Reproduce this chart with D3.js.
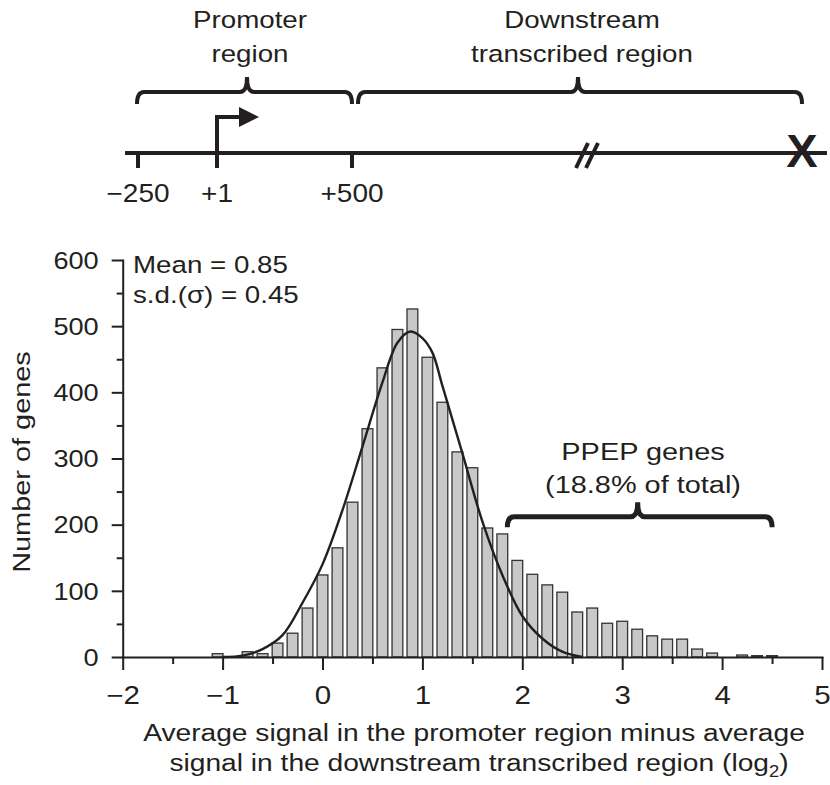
<!DOCTYPE html>
<html>
<head>
<meta charset="utf-8">
<script src="https://cdn.jsdelivr.net/npm/d3@7"></script>
<style>
  body { margin: 0; background: #fff; }
  text { font-family: "Liberation Sans", Arial, Helvetica, sans-serif; fill: #231f20; }
</style>
</head>
<body>
<svg id="chart" width="830" height="785"></svg>
<script>
// histogram bins (bin centres, log2 units) and gene counts
const binCenters = [-1.65, -1.5, -1.35, -1.2, -1.05, -0.9, -0.75, -0.6, -0.45, -0.3, -0.15,
  0, 0.15, 0.3, 0.45, 0.6, 0.75, 0.9, 1.05, 1.2, 1.35, 1.5, 1.65, 1.8, 1.95, 2.1, 2.25,
  2.4, 2.55, 2.7, 2.85, 3.0, 3.15, 3.3, 3.45, 3.6, 3.75, 3.9, 4.05, 4.2, 4.35, 4.5]
const counts = [0, 0, 0, 0, 5, 0, 8, 5, 21, 36, 74,
  124, 165, 234, 345, 437, 495, 526, 453, 385, 310, 286, 195, 186, 146, 125, 109,
  98, 68, 74, 51, 54, 42, 32, 27, 27, 12, 6, 0, 3, 2, 2]
const binWidth = 0.15

// fitted normal curve
const fitX = [-1.0, -0.8, -0.6, -0.4, -0.2, 0.0, 0.2, 0.4, 0.6, 0.75, 0.88, 1.0,
  1.1, 1.2, 1.4, 1.6, 1.8, 2.0, 2.2, 2.4, 2.6]
const fitY = [0, 2, 12, 33, 82, 140, 222, 318, 415, 475, 492, 482,
  460, 410, 308, 205, 124, 62, 28, 8, 0]

const xMajor = [-2, -1, 0, 1, 2, 3, 4, 5]
const xMinor = [-1.5, -0.5, 0.5, 1.5, 2.5, 3.5, 4.5]
const yMajor = [0, 100, 200, 300, 400, 500, 600]
const yMinor = [50, 150, 250, 350, 450, 550]

const statLines = ["Mean = 0.85", "s.d.(\u03c3) = 0.45"]
const ppepLines = ["PPEP genes", "(18.8% of total)"]
const ppepRange = [1.85, 4.5]

// gene schematic labels
const siteLabels = ["\u2212250", "+1", "+500"]
const regionNames = [["Promoter", "region"], ["Downstream", "transcribed region"]]

const SX = 1.18 // the figure's type is wider than Arial
const ink = "#231f20"

const svg = d3.select("#chart")

function label(g, x, y, str, size, anchor, rot, sx) {
  return g.append("text")
    .attr("transform", `translate(${x},${y})` + (rot ? ` rotate(${rot})` : "") + ` scale(${sx || SX},1)`)
    .attr("text-anchor", anchor || "middle")
    .style("font-size", size + "px")
    .text(str)
}

function brace(x1, x2, xm, yLine, yEnd, yTip) {
  const r = Math.min(7, (x2 - x1) / 6)
  const p = d3.path()
  p.moveTo(x1, yEnd)
  p.quadraticCurveTo(x1, yLine, x1 + r, yLine)
  p.lineTo(xm - r, yLine)
  p.quadraticCurveTo(xm, yLine, xm, yTip)
  p.quadraticCurveTo(xm, yLine, xm + r, yLine)
  p.lineTo(x2 - r, yLine)
  p.quadraticCurveTo(x2, yLine, x2, yEnd)
  return p.toString()
}

// ---------- gene schematic ----------
const gene = svg.append("g")
const lineY = 153
const sitePos = [138, 217, 352]
gene.append("line").attr("x1", 125).attr("x2", 827).attr("y1", lineY).attr("y2", lineY)
  .attr("stroke", ink).attr("stroke-width", 4)
;[sitePos[0], sitePos[2]].forEach(px => {
  gene.append("line").attr("x1", px).attr("x2", px).attr("y1", lineY).attr("y2", 168)
    .attr("stroke", ink).attr("stroke-width", 4)
})
// transcription start arrow
gene.append("path").attr("d", `M${sitePos[1]},168 V117 H244`)
  .attr("fill", "none").attr("stroke", ink).attr("stroke-width", 4)
gene.append("path").attr("d", "M259,117 L239,107 L239,127 Z").attr("fill", ink)
siteLabels.forEach((s, i) => label(gene, sitePos[i], 202, s, 25, "middle", 0, 1.12))
// break mark
gene.append("line").attr("x1", 576).attr("y1", 168).attr("x2", 588).attr("y2", 143)
  .attr("stroke", ink).attr("stroke-width", 4)
gene.append("line").attr("x1", 586).attr("y1", 168).attr("x2", 598).attr("y2", 143)
  .attr("stroke", ink).attr("stroke-width", 4)
gene.append("text").attr("x", 802).attr("y", 167).attr("text-anchor", "middle")
  .style("font-size", "47px").style("font-weight", "bold").text("X")
// region braces
const braces = [[137, 352, 247], [358, 802, 578]]
braces.forEach((b, i) => {
  gene.append("path").attr("d", brace(b[0], b[1], b[2], 92, 104, 77))
    .attr("fill", "none").attr("stroke", ink).attr("stroke-width", 4)
  const cx = i === 0 ? 250 : 582
  label(gene, cx, 28, regionNames[i][0], 23.5)
  label(gene, cx, 62, regionNames[i][1], 23.5)
})

// ---------- histogram ----------
const x = d3.scaleLinear().domain([-2, 5]).range([122.7, 822])
const y = d3.scaleLinear().domain([0, 600]).range([657, 260])

const bars = svg.append("g")
bars.selectAll("rect").data(binCenters).join("rect")
  .attr("x", d => x(d - binWidth * 0.36))
  .attr("width", x(binWidth * 0.72) - x(0))
  .attr("y", (d, i) => y(counts[i]))
  .attr("height", (d, i) => y(0) - y(counts[i]))
  .attr("fill", "#c8c8c8").attr("stroke", "#333").attr("stroke-width", 1.3)

const fit = d3.line().x((d, i) => x(fitX[i])).y(d => y(d)).curve(d3.curveCatmullRom.alpha(0.5))
svg.append("path").attr("d", fit(fitY))
  .attr("fill", "none").attr("stroke", ink).attr("stroke-width", 2.4)

// axes
function styleAxis(g) {
  g.selectAll("path, line").attr("stroke", ink).attr("stroke-width", 2)
}
const xAxis = svg.append("g").attr("transform", `translate(0,${y(0)})`)
  .call(d3.axisBottom(x).tickValues(xMajor).tickSize(13).tickSizeOuter(0).tickFormat(d3.format("d")))
xAxis.selectAll(".tick text").attr("y", null).attr("dy", null)
  .attr("transform", `translate(0,47) scale(${SX},1)`)
  .style("font-size", "25px").attr("fill", ink)
svg.append("g").attr("transform", `translate(0,${y(0)})`)
  .call(d3.axisBottom(x).tickValues(xMinor).tickSize(7).tickFormat(""))
  .call(g => g.select(".domain").remove())
  .call(styleAxis)
styleAxis(xAxis)

const yAxis = svg.append("g").attr("transform", `translate(${x(-2)},0)`)
  .call(d3.axisLeft(y).tickValues(yMajor).tickSize(11).tickSizeOuter(0))
yAxis.selectAll(".tick text").attr("x", null).attr("dy", "0.36em")
  .attr("transform", `translate(-24,0) scale(${SX},1)`)
  .style("font-size", "23px").attr("fill", ink)
svg.append("g").attr("transform", `translate(${x(-2)},0)`)
  .call(d3.axisLeft(y).tickValues(yMinor).tickSize(6).tickFormat(""))
  .call(g => g.select(".domain").remove())
  .call(styleAxis)
styleAxis(yAxis)
svg.selectAll(".domain").attr("stroke-linecap", "square")

// titles
label(svg, 30, 462, "Number of genes", 24.5, "middle", -90)
label(svg, 474, 741, "Average signal in the promoter region minus average", 24.5, "middle", 0, 1.15)
const t2 = label(svg, 479, 771, "", 24.5, "middle", 0, 1.15)
t2.append("tspan").text("signal in the downstream transcribed region (log")
t2.append("tspan").attr("dy", 6).style("font-size", "16px").text("2")
t2.append("tspan").attr("dy", -6).text(")")

// annotations
statLines.forEach((s, i) => label(svg, 133, 273 + i * 30, s, 23.5, "start"))
const pm = (ppepRange[0] + ppepRange[1]) / 2
svg.append("path")
  .attr("d", brace(x(ppepRange[0]), x(ppepRange[1]), x(pm) - 2, y(212), y(196), y(234)))
  .attr("fill", "none").attr("stroke", ink).attr("stroke-width", 5)
ppepLines.forEach((s, i) => label(svg, 643, 460 + i * 33, s, 24.5))
</script>
</body>
</html>
